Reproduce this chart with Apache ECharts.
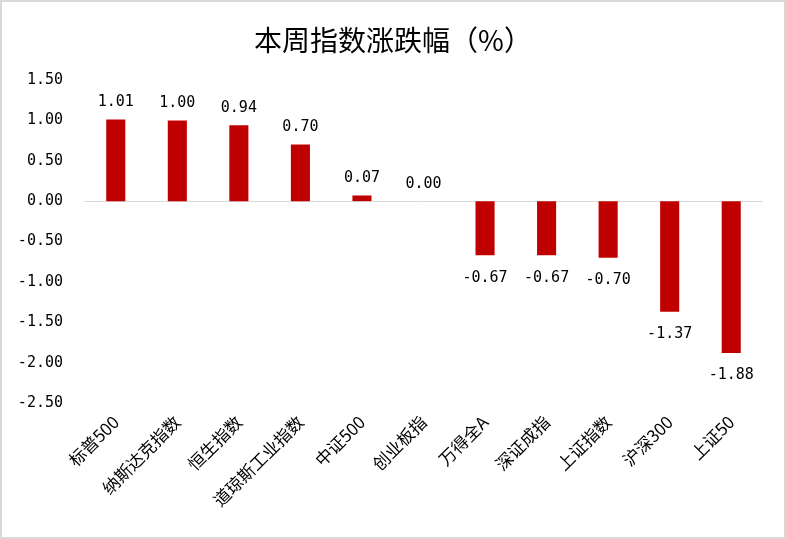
<!DOCTYPE html>
<html><head><meta charset="utf-8">
<script src="https://cdn.jsdelivr.net/npm/echarts@6/dist/echarts.min.js"></script>
<style>
html,body{margin:0;padding:0;background:#fff;}
#c{width:786px;height:539px;box-sizing:border-box;border:2px solid #d9d9d9;}
#m{width:782px;height:535px;}
</style></head>
<body><div id="c"><div id="m"></div></div>
<script>
const categories = ['标普500','纳斯达克指数','恒生指数','道琼斯工业指数','中证500','创业板指','万得全A','深证成指','上证指数','沪深300','上证50'];
const values = [1.01, 1.00, 0.94, 0.70, 0.07, 0.00, -0.67, -0.67, -0.70, -1.37, -1.88];
const yTicks = {min: -2.5, max: 1.5, interval: 0.5};

const numFont = 'DejaVu Sans Mono';
const chart = echarts.init(document.getElementById('m'));
chart.setOption({
  animation: false,
  title: {
    text: '本周指数涨跌幅（%）', left: 'center', top: 19,
    textStyle: {fontFamily: 'Noto Sans CJK SC', fontSize: 28, fontWeight: 'normal', color: '#000'}
  },
  grid: {left: 83, right: 22, top: 78, bottom: 134},
  xAxis: [{
    type: 'category', data: categories,
    axisLine: {show: false, onZero: false}, axisTick: {show: false},
    axisLabel: {rotate: 45, interval: 0, margin: 16, color: '#000', fontSize: 17, fontFamily: 'Noto Sans CJK SC'}
  }, {
    type: 'category', data: categories, position: 'bottom',
    axisLine: {show: true, onZero: true, lineStyle: {color: '#d9d9d9', width: 1}},
    axisTick: {show: false}, axisLabel: {show: false}
  }],
  yAxis: {
    type: 'value', min: yTicks.min, max: yTicks.max, interval: yTicks.interval,
    axisLine: {show: false}, axisTick: {show: false}, splitLine: {show: false},
    axisLabel: {margin: 22, color: '#000', fontSize: 15, fontFamily: numFont,
      formatter: v => v.toFixed(2)}
  },
  series: [{
    type: 'bar',
    data: values.map(v => ({value: v, label: v < 0 ? {position: 'bottom', distance: 15} : {position: 'top', distance: 10}})),
    barWidth: '31%', itemStyle: {color: '#C00000'},
    label: {show: true, color: '#000', fontSize: 15, fontFamily: numFont,
      formatter: p => p.value.toFixed(2)}
  }]
});
</script></body></html>
